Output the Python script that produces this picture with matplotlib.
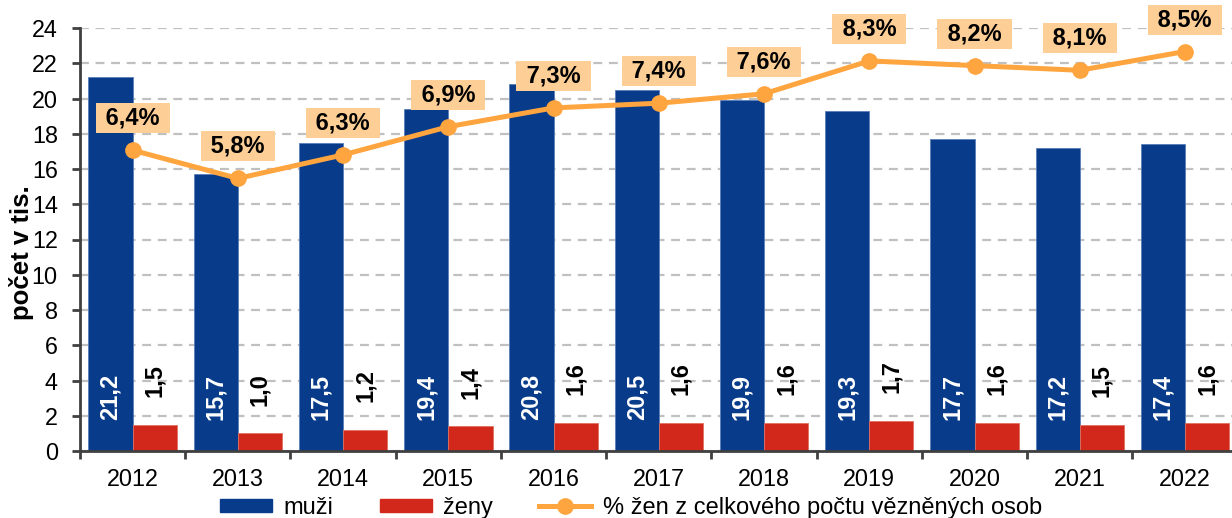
import numpy as np
import matplotlib.pyplot as plt
from matplotlib.patches import Patch
from matplotlib.lines import Line2D

plt.rcParams['font.family'] = ['Liberation Sans', 'DejaVu Sans']

# data
years = ['2012', '2013', '2014', '2015', '2016', '2017', '2018', '2019', '2020', '2021', '2022']
muzi = [21.2, 15.7, 17.5, 19.4, 20.8, 20.5, 19.9, 19.3, 17.7, 17.2, 17.4]
zeny = [1.5, 1.0, 1.2, 1.4, 1.6, 1.6, 1.6, 1.7, 1.6, 1.5, 1.6]
podil = [6.4, 5.8, 6.3, 6.9, 7.3, 7.4, 7.6, 8.3, 8.2, 8.1, 8.5]

blue = '#083C8A'
red = '#D2281C'
orange = '#FFA53F'
box = '#FDCF97'

fig = plt.figure(figsize=(12.32, 5.18), dpi=100)
ax = fig.add_axes([80 / 1232, 67 / 518, 1157.6 / 1232, 423 / 518])

x = np.arange(len(years))
w = 0.42
ax.bar(x - w / 2, muzi, w, color=blue, edgecolor='#5A7DBA', linewidth=0.6, zorder=2)
ax.bar(x + w / 2, zeny, w, color=red, edgecolor='#E0705F', linewidth=0.6, zorder=2)

# value labels in bars
for xi, v in zip(x, muzi):
    ax.annotate(f'{v:.1f}'.replace('.', ','), (xi - w / 2, 0), xytext=(0, 22),
                textcoords='offset points', rotation=90, ha='center', va='bottom',
                color='white', fontsize=17, fontweight='bold')
for xi, v in zip(x, zeny):
    ax.annotate(f'{v:.1f}'.replace('.', ','), (xi + w / 2, v), xytext=(0, 20),
                textcoords='offset points', rotation=90, ha='center', va='bottom',
                color='black', fontsize=17, fontweight='bold')

ax.set_ylim(0, 24)
ax.set_yticks(np.arange(0, 25, 2))
ax.set_xlim(-0.5, len(years) - 0.5)
ax.set_xticks(x)
ax.set_xticklabels(years)
ax.set_xticks(np.arange(-0.5, len(years), 1), minor=True)
ax.tick_params(axis='x', which='major', length=0, pad=12, labelsize=16.8)
ax.tick_params(axis='x', which='minor', length=6, width=2, color='#404040')
ax.tick_params(axis='y', length=6, width=2, color='#404040', labelsize=16.8, pad=10)
ax.yaxis.grid(True, linestyle=(0, (4, 3)), color='#C0C0C0', linewidth=1.6)
ax.set_axisbelow(True)
for s in ['top', 'right']:
    ax.spines[s].set_visible(False)
for s in ['left', 'bottom']:
    ax.spines[s].set_color('#404040')
    ax.spines[s].set_linewidth(2)
ax.set_ylabel('počet v tis.', fontsize=18.5, fontweight='bold')
ax.yaxis.set_label_coords(-0.040, 0.468)

# share line on hidden secondary axis
ax2 = ax.twinx()
ax2.set_ylim(0, 9)
ax2.set_axis_off()
ax2.plot(x, podil, color=orange, linewidth=3.6, marker='o', markersize=11, zorder=3)
for xi, p in zip(x, podil):
    ax2.annotate(' ' + f'{p:.1f}%'.replace('.', ',') + ' ', (xi, p), xytext=(0, 23),
                 textcoords='offset points', ha='center', va='center',
                 fontsize=17, fontweight='bold', color='black',
                 bbox=dict(boxstyle='square,pad=0.15', fc=box, ec='none'))

handles = [Patch(color=blue, label='muži'),
           Patch(color=red, label='ženy'),
           Line2D([0], [0], color=orange, linewidth=3.6, marker='o', markersize=11,
                  label='% žen z celkového počtu vězněných osob')]
fig.legend(handles=handles, loc='center left', bbox_to_anchor=(220 / 1232, 10 / 518),
           ncol=3, frameon=False, fontsize=17, handlelength=2.2, handleheight=0.5,
           handletextpad=0.5, columnspacing=1.95, borderpad=0, borderaxespad=0)

fig.savefig('out.png', dpi=100)
